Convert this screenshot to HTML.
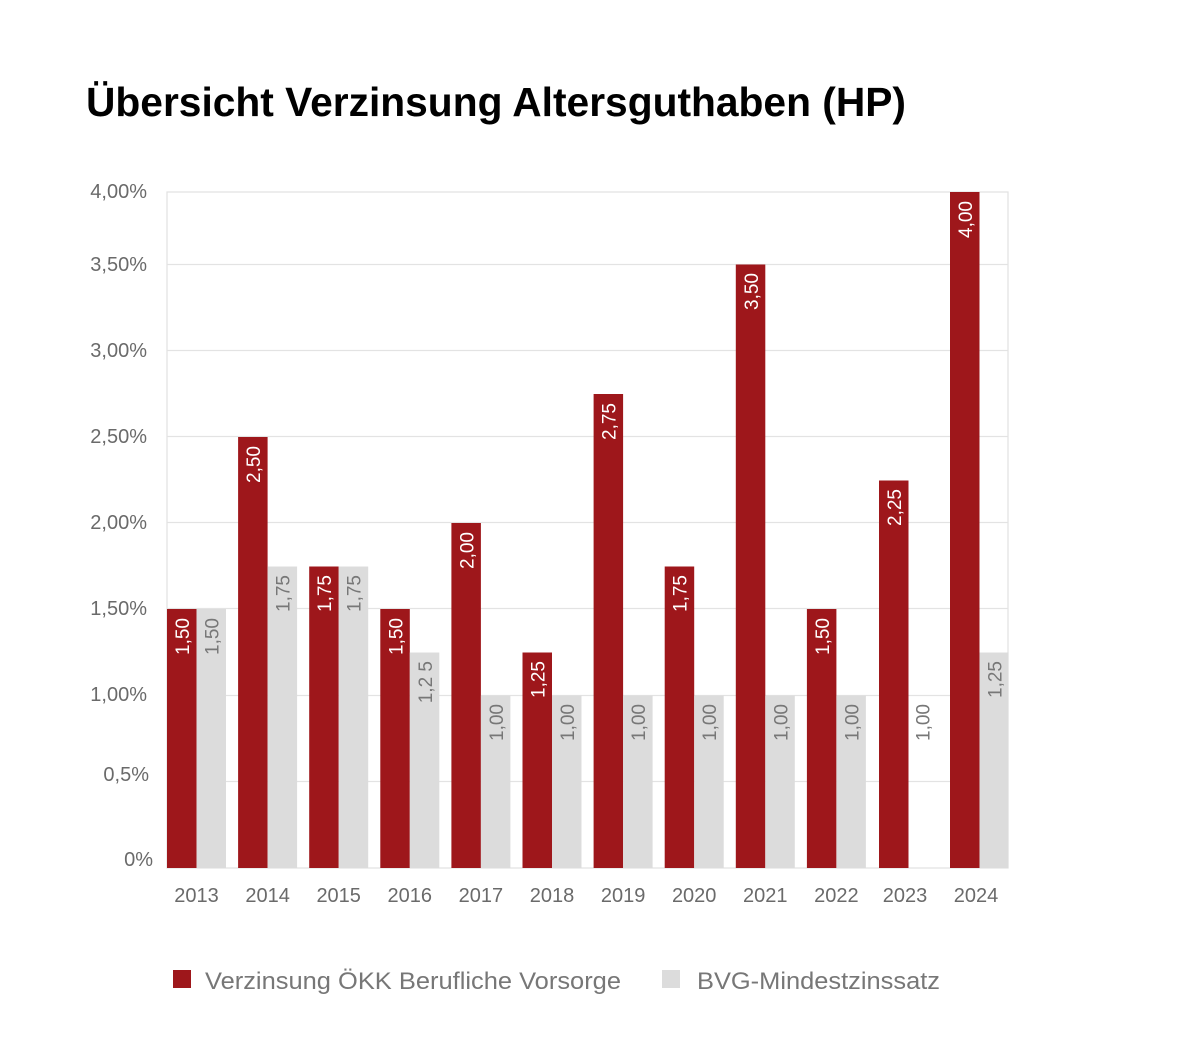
<!DOCTYPE html>
<html><head><meta charset="utf-8"><style>
html,body{margin:0;padding:0;background:#fff;}
svg{display:block;font-family:"Liberation Sans",sans-serif;}
</style></head><body>
<svg width="1200" height="1049" viewBox="0 0 1200 1049">
<text x="86" y="116" font-size="41" font-weight="bold" fill="#000" textLength="820" lengthAdjust="spacingAndGlyphs">Übersicht Verzinsung Altersguthaben (HP)</text>
<g stroke="#e3e3e3" stroke-width="1.3" fill="none">
<rect x="167" y="192" width="841" height="676"/>
<line x1="167" y1="264.5" x2="1008" y2="264.5"/>
<line x1="167" y1="350.5" x2="1008" y2="350.5"/>
<line x1="167" y1="436.5" x2="1008" y2="436.5"/>
<line x1="167" y1="522.5" x2="1008" y2="522.5"/>
<line x1="167" y1="608.5" x2="1008" y2="608.5"/>
<line x1="167" y1="695.5" x2="1008" y2="695.5"/>
<line x1="167" y1="781.5" x2="1008" y2="781.5"/>
</g>
<g font-size="20" fill="#6a6a6a" text-anchor="end">
<text x="147" y="198">4,00%</text>
<text x="147" y="271">3,50%</text>
<text x="147" y="357">3,00%</text>
<text x="147" y="443">2,50%</text>
<text x="147" y="529">2,00%</text>
<text x="147" y="615">1,50%</text>
<text x="147" y="701">1,00%</text>
<text x="149" y="781">0,5%</text>
<text x="153" y="866">0%</text>
</g>
<rect x="173" y="970" width="18" height="18" fill="#9e171b"/>
<text x="205" y="989" font-size="24" fill="#777" textLength="416" lengthAdjust="spacingAndGlyphs">Verzinsung ÖKK Berufliche Vorsorge</text>
<rect x="662" y="970" width="18" height="18" fill="#dcdcdc"/>
<text x="697" y="989" font-size="24" fill="#777" textLength="243" lengthAdjust="spacingAndGlyphs">BVG-Mindestzinssatz</text>

<g>
<rect x="167" y="609" width="29.5" height="259" fill="#9e171b"/><rect x="196.5" y="609" width="29.5" height="259" fill="#dcdcdc"/>
<rect x="238.1" y="437" width="29.5" height="431" fill="#9e171b"/><rect x="267.6" y="566.5" width="29.5" height="301.5" fill="#dcdcdc"/>
<rect x="309.2" y="566.5" width="29.5" height="301.5" fill="#9e171b"/><rect x="338.7" y="566.5" width="29.5" height="301.5" fill="#dcdcdc"/>
<rect x="380.3" y="609" width="29.5" height="259" fill="#9e171b"/><rect x="409.8" y="652.5" width="29.5" height="215.5" fill="#dcdcdc"/>
<rect x="451.4" y="523" width="29.5" height="345" fill="#9e171b"/><rect x="480.9" y="695.5" width="29.5" height="172.5" fill="#dcdcdc"/>
<rect x="522.5" y="652.5" width="29.5" height="215.5" fill="#9e171b"/><rect x="552" y="695.5" width="29.5" height="172.5" fill="#dcdcdc"/>
<rect x="593.6" y="394" width="29.5" height="474" fill="#9e171b"/><rect x="623.1" y="695.5" width="29.5" height="172.5" fill="#dcdcdc"/>
<rect x="664.7" y="566.5" width="29.5" height="301.5" fill="#9e171b"/><rect x="694.2" y="695.5" width="29.5" height="172.5" fill="#dcdcdc"/>
<rect x="735.8" y="264.5" width="29.5" height="603.5" fill="#9e171b"/><rect x="765.3" y="695.5" width="29.5" height="172.5" fill="#dcdcdc"/>
<rect x="806.9" y="609" width="29.5" height="259" fill="#9e171b"/><rect x="836.4" y="695.5" width="29.5" height="172.5" fill="#dcdcdc"/>
<rect x="879" y="480.5" width="29.5" height="387.5" fill="#9e171b"/>
<rect x="950" y="192" width="29.5" height="676" fill="#9e171b"/><rect x="979.5" y="652.5" width="29" height="215.5" fill="#dcdcdc"/>
</g>
<g font-size="19" text-anchor="end">
<g fill="#fff">
<text transform="translate(189,618) rotate(-90)">1,50</text>
<text transform="translate(260.1,446) rotate(-90)">2,50</text>
<text transform="translate(331.2,575) rotate(-90)">1,75</text>
<text transform="translate(402.3,618) rotate(-90)">1,50</text>
<text transform="translate(473.4,532) rotate(-90)">2,00</text>
<text transform="translate(544.5,661) rotate(-90)">1,25</text>
<text transform="translate(615.6,403) rotate(-90)">2,75</text>
<text transform="translate(686.7,575) rotate(-90)">1,75</text>
<text transform="translate(757.8,273) rotate(-90)">3,50</text>
<text transform="translate(828.9,618) rotate(-90)">1,50</text>
<text transform="translate(901,489) rotate(-90)">2,25</text>
<text transform="translate(972,201) rotate(-90)">4,00</text>
</g>
<g fill="#777">
<text transform="translate(218.5,618) rotate(-90)">1,50</text>
<text transform="translate(289.6,575) rotate(-90)">1,75</text>
<text transform="translate(360.7,575) rotate(-90)">1,75</text>
<text transform="translate(431.8,661) rotate(-90)">1,2 5</text>
<text transform="translate(502.9,704) rotate(-90)">1,00</text>
<text transform="translate(574,704) rotate(-90)">1,00</text>
<text transform="translate(645.1,704) rotate(-90)">1,00</text>
<text transform="translate(716.2,704) rotate(-90)">1,00</text>
<text transform="translate(787.3,704) rotate(-90)">1,00</text>
<text transform="translate(858.4,704) rotate(-90)">1,00</text>
<text transform="translate(929.5,704) rotate(-90)">1,00</text>
<text transform="translate(1001.5,661) rotate(-90)">1,25</text>
</g>
</g>
<g font-size="20" fill="#6a6a6a" text-anchor="middle">
<text x="196.5" y="902">2013</text>
<text x="267.6" y="902">2014</text>
<text x="338.7" y="902">2015</text>
<text x="409.8" y="902">2016</text>
<text x="480.9" y="902">2017</text>
<text x="552" y="902">2018</text>
<text x="623.1" y="902">2019</text>
<text x="694.2" y="902">2020</text>
<text x="765.3" y="902">2021</text>
<text x="836.4" y="902">2022</text>
<text x="905" y="902">2023</text>
<text x="976" y="902">2024</text>
</g>
</svg>
</body></html>
